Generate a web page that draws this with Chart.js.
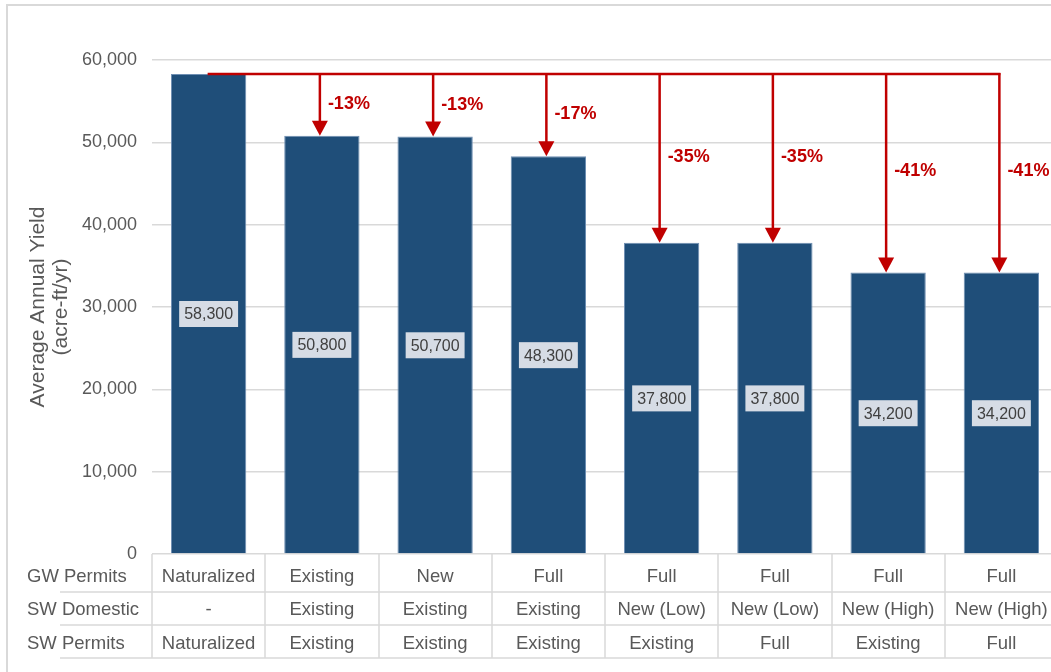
<!DOCTYPE html>
<html>
<head>
<meta charset="utf-8">
<script src="https://cdn.jsdelivr.net/npm/chart.js@4.4.1/dist/chart.umd.min.js"></script>
<style>
html, body { margin: 0; padding: 0; background: #fff; overflow: hidden; }
#wrap { position: relative; width: 1051px; height: 672px; overflow: hidden; }
#grafica { position: absolute; left: 0; top: 0; }
</style>
</head>
<body>
<div id="wrap"><canvas id="grafica" width="1070" height="672"></canvas></div>
<script>
// escenarios: permisos de agua subterranea / uso domestico / permisos superficiales
var gwPermits = ['Naturalized', 'Existing', 'New', 'Full', 'Full', 'Full', 'Full', 'Full'];
var swDomestic = ['-', 'Existing', 'Existing', 'Existing', 'New (Low)', 'New (Low)', 'New (High)', 'New (High)'];
var swPermits = ['Naturalized', 'Existing', 'Existing', 'Existing', 'Existing', 'Full', 'Existing', 'Full'];
var filas = ['GW Permits', 'SW Domestic', 'SW Permits'];

var rendimiento = [58300, 50800, 50700, 48300, 37800, 37800, 34200, 34200];

var yMin = 0;
var yMax = 60000;
var yPaso = 10000;

var FUENTE = '"Liberation Sans", Arial, sans-serif';
var GRIS = '#595959';
var ROJO = '#c00000';

var etiquetas = gwPermits.map(function(g, i){
    return [g, swDomestic[i], swPermits[i]];
});

var tablaPlugin = {
    id: 'tabla',
    beforeDraw: function(chart){
        var ctx = chart.ctx;
        ctx.save();
        ctx.fillStyle = '#fff';
        ctx.fillRect(0, 0, chart.width, chart.height);
        ctx.strokeStyle = '#d9d9d9';
        ctx.lineWidth = 2;
        ctx.strokeRect(7, 5, chart.width + 20, chart.height + 20);
        ctx.restore();
    },
    afterDatasetsDraw: function(chart){
        var ctx = chart.ctx;
        var x = chart.scales.x;
        var y = chart.scales.y;
        var base = rendimiento[0];
        var y0 = y.getPixelForValue(base);
        var n = rendimiento.length;
        ctx.save();

        // cajas con el valor de cada barra
        ctx.font = '16px ' + FUENTE;
        ctx.textAlign = 'center';
        ctx.textBaseline = 'middle';
        rendimiento.forEach(function(v, i){
            var cx = x.getPixelForValue(i);
            var cy = y.getPixelForValue(v / 2);
            var txt = v.toLocaleString('en-US');
            var w = ctx.measureText(txt).width + 10;
            var h = 26;
            ctx.fillStyle = '#d6dce5';
            ctx.fillRect(cx - w / 2, cy - h / 2, w, h);
            ctx.fillStyle = '#404040';
            ctx.fillText(txt, cx, cy + 1);
        });

        // flechas de reduccion respecto al escenario natural
        ctx.strokeStyle = ROJO;
        ctx.fillStyle = ROJO;
        ctx.lineWidth = 2.5;
        ctx.beginPath();
        ctx.moveTo(x.getPixelForValue(0) - 1, y0);
        ctx.lineTo(x.getPixelForValue(n - 1) - 1, y0);
        ctx.stroke();

        ctx.font = 'bold 18px ' + FUENTE;
        ctx.textAlign = 'left';
        for (var i = 1; i < n; i++) {
            var cx = x.getPixelForValue(i) - 2;
            var yTop = y.getPixelForValue(rendimiento[i]);
            ctx.beginPath();
            ctx.moveTo(cx, y0 - 1);
            ctx.lineTo(cx, yTop - 13);
            ctx.stroke();
            ctx.beginPath();
            ctx.moveTo(cx - 8, yTop - 15);
            ctx.lineTo(cx + 8, yTop - 15);
            ctx.lineTo(cx, yTop);
            ctx.closePath();
            ctx.fill();

            var pct = Math.round((rendimiento[i] / base - 1) * 100);
            ctx.fillText(pct + '%', cx + 8, y0 + (yTop - y0) * 0.49);
        }
        ctx.restore();
    },
    afterDraw: function(chart){
        var ctx = chart.ctx;
        var x = chart.scales.x;
        var area = chart.chartArea;
        var n = etiquetas.length;
        var ancho = (area.right - area.left) / n;
        var lineas = [38, 71, 104];
        var centros = [23, 56, 90];
        ctx.save();
        ctx.strokeStyle = '#d9d9d9';
        ctx.lineWidth = 1.5;

        lineas.forEach(function(d){
            ctx.beginPath();
            ctx.moveTo(60, area.bottom + d);
            ctx.lineTo(chart.width, area.bottom + d);
            ctx.stroke();
        });
        for (var i = 0; i <= n; i++) {
            var lx = Math.round(area.left + i * ancho);
            ctx.beginPath();
            ctx.moveTo(lx, area.bottom);
            ctx.lineTo(lx, area.bottom + lineas[2]);
            ctx.stroke();
        }

        ctx.font = '18.5px ' + FUENTE;
        ctx.fillStyle = GRIS;
        ctx.textBaseline = 'middle';
        ctx.textAlign = 'left';
        filas.forEach(function(f, r){
            ctx.fillText(f, 27, area.bottom + centros[r]);
        });
        ctx.textAlign = 'center';
        for (var j = 0; j < n; j++) {
            var lab = x.getLabelForValue(j);
            var cx = x.getPixelForValue(j);
            lab.forEach(function(t, r){
                ctx.fillText(t, cx, area.bottom + centros[r]);
            });
        }
        ctx.restore();
    }
};

var ctx = document.getElementById('grafica');
var grafica = new Chart(ctx, {
    type: 'bar',
    data: {
        labels: etiquetas,
        datasets: [{
            label: 'Average Annual Yield',
            data: rendimiento,
            backgroundColor: '#1f4e79',
            borderColor: '#6f8fb3',
            borderWidth: 1,
            barPercentage: 0.665,
            categoryPercentage: 1
        }]
    },
    options: {
        responsive: false,
        animation: false,
        layout: { padding: { top: 60, right: 12, bottom: 118, left: 0 } },
        plugins: {
            legend: { display: false },
            tooltip: { enabled: false }
        },
        scales: {
            x: { display: false },
            y: {
                min: yMin,
                max: yMax,
                ticks: {
                    stepSize: yPaso,
                    padding: 15,
                    color: GRIS,
                    font: { family: FUENTE, size: 18 },
                    callback: function(v){ return v.toLocaleString('en-US'); }
                },
                grid: { color: '#d9d9d9', lineWidth: 1.5, drawTicks: false },
                border: { display: false },
                title: {
                    display: true,
                    text: ['Average Annual Yield', '(acre-ft/yr)'],
                    color: GRIS,
                    font: { family: FUENTE, size: 21, lineHeight: 1.1 },
                    padding: { top: 27, bottom: 0 }
                },
                afterFit: function(s){ s.width = 152; }
            }
        }
    },
    plugins: [tablaPlugin]
});
</script>
</body>
</html>
